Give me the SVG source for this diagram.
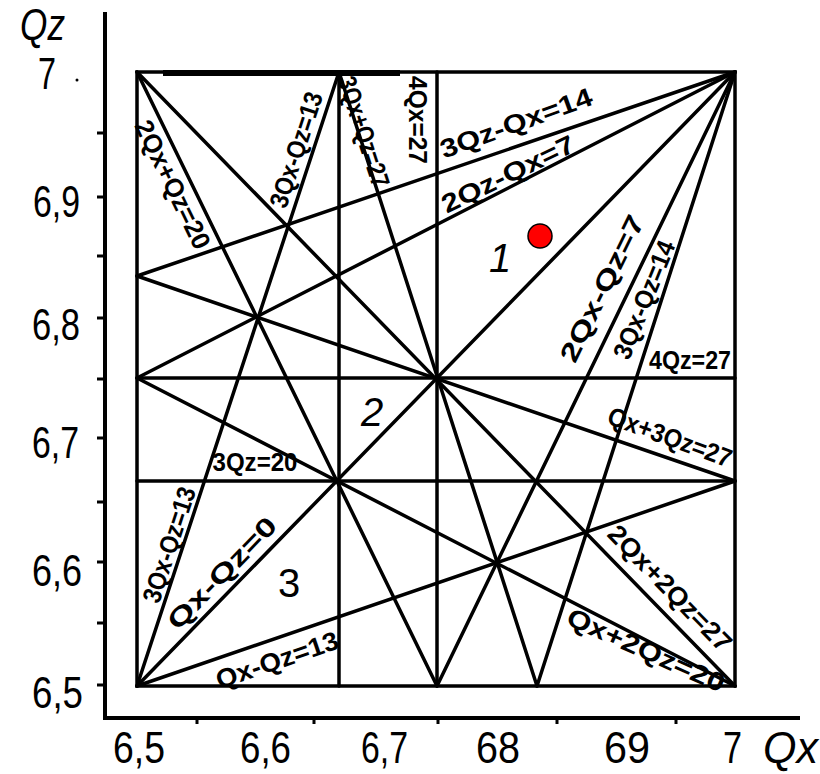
<svg xmlns="http://www.w3.org/2000/svg" width="820" height="774" viewBox="0 0 820 774">
<defs>
<style>
.ln{stroke:#000;stroke-width:3.5;fill:none;stroke-linecap:round}
.ax{stroke:#000;stroke-width:4;fill:none}
.tk{stroke:#000;stroke-width:3;fill:none}
.lb{font-family:"Liberation Sans",Arial,sans-serif;font-weight:bold;font-size:26px;fill:#000}
.num{font-family:"Liberation Sans",Arial,sans-serif;font-size:44px;fill:#000}
.reg{font-family:"Liberation Sans",Arial,sans-serif;font-size:40px;fill:#000}
</style>
</defs>
<rect width="820" height="774" fill="#fff"/>
<g id="axes">
<path class="ax" d="M105 12V720M103 718H800"/>
<path class="tk" d="M97 133H105M97 197H105M97 256H105M97 318H105M97 379H105M97 438H105M97 502H105M97 562H105M97 623H105M97 685H105"/>
<path class="tk" d="M197 718V724M314 718V724M438 718V724M557 718V724M676 718V724"/>
<text class="num" x="20" y="40" font-size="32" font-style="italic" textLength="45" lengthAdjust="spacingAndGlyphs">Qz</text>
<text class="num" x="38" y="89" textLength="18" lengthAdjust="spacingAndGlyphs">7</text>
<circle cx="77" cy="80" r="1.5" fill="#000"/>
<text class="num" x="33" y="217" textLength="47" lengthAdjust="spacingAndGlyphs">6,9</text>
<text class="num" x="32" y="340" textLength="48" lengthAdjust="spacingAndGlyphs">6,8</text>
<text class="num" x="32" y="458" textLength="47" lengthAdjust="spacingAndGlyphs">6,7</text>
<text class="num" x="32" y="586" textLength="50" lengthAdjust="spacingAndGlyphs">6,6</text>
<text class="num" x="32" y="708" textLength="51" lengthAdjust="spacingAndGlyphs">6,5</text>
<text class="num" x="113" y="763" textLength="52" lengthAdjust="spacingAndGlyphs">6,5</text>
<text class="num" x="240" y="763" textLength="51" lengthAdjust="spacingAndGlyphs">6,6</text>
<text class="num" x="361" y="763" textLength="47" lengthAdjust="spacingAndGlyphs">6,7</text>
<text class="num" x="476" y="763" textLength="44" lengthAdjust="spacingAndGlyphs">68</text>
<text class="num" x="604" y="763" textLength="46" lengthAdjust="spacingAndGlyphs">69</text>
<text class="num" x="723" y="763" textLength="19" lengthAdjust="spacingAndGlyphs">7</text>
<text class="num" x="763" y="763" font-style="italic" textLength="55" lengthAdjust="spacingAndGlyphs">Qx</text>
</g>
<g id="connectors">
<rect class="ln" x="137" y="72" width="598" height="614"/>
<line class="ln" x1="137" y1="686" x2="735" y2="72"/>
<line class="ln" x1="137" y1="72" x2="735" y2="686"/>
<line class="ln" x1="137" y1="72" x2="437" y2="686"/>
<line class="ln" x1="137" y1="378" x2="735" y2="686"/>
<line class="ln" x1="735" y1="72" x2="437" y2="686"/>
<line class="ln" x1="735" y1="72" x2="137" y2="378"/>
<line class="ln" x1="735" y1="72" x2="537" y2="686"/>
<line class="ln" x1="735" y1="72" x2="137" y2="276"/>
<line class="ln" x1="137" y1="686" x2="339" y2="72"/>
<line class="ln" x1="137" y1="686" x2="735" y2="481"/>
<line class="ln" x1="339" y1="72" x2="537" y2="686"/>
<line class="ln" x1="137" y1="276" x2="735" y2="481"/>
<line class="ln" x1="437" y1="72" x2="437" y2="686"/>
<line class="ln" x1="137" y1="378" x2="735" y2="378"/>
<line class="ln" x1="339" y1="72" x2="339" y2="686"/>
<line class="ln" x1="137" y1="481" x2="735" y2="481"/>
<path d="M163 73H400" stroke="#000" stroke-width="6"/>
</g>
<g id="labels">
<text class="lb" transform="translate(222,573) rotate(-46)" text-anchor="middle" y="9" font-size="28" textLength="145" lengthAdjust="spacingAndGlyphs">Qx-Qz=0</text>
<text class="lb" transform="translate(170,545) rotate(-72)" text-anchor="middle" y="8" font-size="24" textLength="120" lengthAdjust="spacingAndGlyphs">3Qx-Qz=13</text>
<text class="lb" transform="translate(277,660) rotate(-19)" text-anchor="middle" y="9" textLength="128" lengthAdjust="spacingAndGlyphs">Qx-Qz=13</text>
<text class="lb" transform="translate(255,462)" text-anchor="middle" y="9" textLength="85" lengthAdjust="spacingAndGlyphs">3Qz=20</text>
<text class="lb" transform="translate(670,588) rotate(45.8)" text-anchor="middle" y="9" textLength="165" lengthAdjust="spacingAndGlyphs">2Qx+2Qz=27</text>
<text class="lb" transform="translate(646,650) rotate(24)" text-anchor="middle" y="9" font-size="24" textLength="170" lengthAdjust="spacingAndGlyphs">Qx+2Qz=20</text>
<text class="lb" transform="translate(670,437) rotate(20)" text-anchor="middle" y="9" textLength="130" lengthAdjust="spacingAndGlyphs">Qx+3Qz=27</text>
<text class="lb" transform="translate(690,360)" text-anchor="middle" y="9" textLength="82" lengthAdjust="spacingAndGlyphs">4Qz=27</text>
<text class="lb" transform="translate(601,288) rotate(-64)" text-anchor="middle" y="10" font-size="28" textLength="160" lengthAdjust="spacingAndGlyphs">2Qx-Qz=7</text>
<text class="lb" transform="translate(645,300) rotate(-68)" text-anchor="middle" y="8" font-size="22" textLength="125" lengthAdjust="spacingAndGlyphs">3Qx-Qz=14</text>
<text class="lb" transform="translate(516,123) rotate(-20)" text-anchor="middle" y="9" textLength="160" lengthAdjust="spacingAndGlyphs">3Qz-Qx=14</text>
<text class="lb" transform="translate(508,174) rotate(-26)" text-anchor="middle" y="9" textLength="145" lengthAdjust="spacingAndGlyphs">2Qz-Qx=7</text>
<text class="lb" transform="translate(418,120) rotate(90)" text-anchor="middle" y="9" textLength="88" lengthAdjust="spacingAndGlyphs">4Qx=27</text>
<text class="lb" transform="translate(363,132) rotate(72)" text-anchor="middle" y="8" font-size="24" textLength="115" lengthAdjust="spacingAndGlyphs">3Qx+Qz=27</text>
<text class="lb" transform="translate(297,150) rotate(-72)" text-anchor="middle" y="8" font-size="24" textLength="120" lengthAdjust="spacingAndGlyphs">3Qx-Qz=13</text>
<text class="lb" transform="translate(172,185) rotate(64)" text-anchor="middle" y="8" font-size="24" textLength="140" lengthAdjust="spacingAndGlyphs">2Qx+Qz=20</text>
</g>
<g id="regions">
<text class="reg" x="500" y="272" text-anchor="middle" font-style="italic">1</text>
<text class="reg" x="372" y="426" text-anchor="middle" font-style="italic">2</text>
<text class="reg" x="289" y="597" text-anchor="middle">3</text>
</g>
<g id="point">
<circle cx="540" cy="236" r="12" fill="#f00" stroke="#000" stroke-width="1.5"/>
</g>
</svg>
